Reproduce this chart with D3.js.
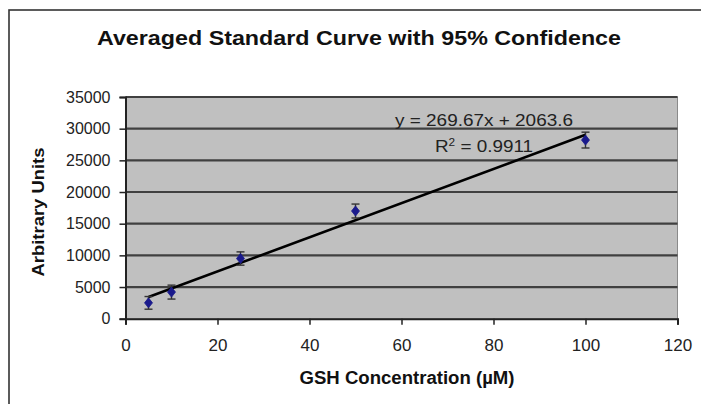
<!DOCTYPE html>
<html>
<head>
<meta charset="utf-8">
<script src="https://cdn.jsdelivr.net/npm/d3@7"></script>
<style>
  html, body { margin: 0; padding: 0; background: #fff; }
  svg { display: block; font-family: "Liberation Sans", Arial, sans-serif; }
</style>
</head>
<body>
<svg id="chart" width="701" height="404"></svg>
<script>
// ---- data ----
const concentrations = [5, 10, 25, 50, 100];
const meanValues = [2500, 4200, 9500, 17000, 28200];
const ciErrors = [1000, 1100, 1050, 1100, 1250];
const xTicks = [0, 20, 40, 60, 80, 100, 120];
const yTicks = [0, 5000, 10000, 15000, 20000, 25000, 30000, 35000];
const trendSlope = 269.67;
const trendIntercept = 2063.6;
const trendRange = [5, 100];
const titleText = "Averaged Standard Curve with 95% Confidence";
const xLabel = "GSH Concentration (\u00b5M)";
const yLabel = "Arbitrary Units";

// ---- layout ----
const svg = d3.select("#chart");
const plot = { left: 125.5, right: 677.5, top: 97, bottom: 318.7 };

const x = d3.scaleLinear().domain([0, 120]).range([plot.left, plot.right]);
const y = d3.scaleLinear().domain([0, 35000]).range([plot.bottom, plot.top]);

// outer chart border (only top and left visible)
svg.append("rect")
  .attr("x", 9).attr("y", 10).attr("width", 720).attr("height", 420)
  .attr("fill", "#fff").attr("stroke", "#333").attr("stroke-width", 1.6);

// title
svg.append("text")
  .attr("x", 359).attr("y", 45)
  .attr("text-anchor", "middle")
  .attr("font-size", 21).attr("font-weight", "bold")
  .attr("fill", "#111")
  .attr("textLength", 524).attr("lengthAdjust", "spacingAndGlyphs")
  .text(titleText);

// plot background
svg.append("rect")
  .attr("x", plot.left).attr("y", plot.top)
  .attr("width", plot.right - plot.left).attr("height", plot.bottom - plot.top)
  .attr("fill", "#c0c0c0").attr("stroke", "#8a8a8a").attr("stroke-width", 1);

// gridlines
svg.append("g").selectAll("line")
  .data(yTicks.filter(d => d > 0))
  .join("line")
  .attr("x1", plot.left).attr("x2", plot.right)
  .attr("y1", d => y(d)).attr("y2", d => y(d))
  .attr("stroke", "#404040").attr("stroke-width", 2.2);

// axes
const xAxis = d3.axisBottom(x).tickValues(xTicks).tickSize(6).tickPadding(14).tickFormat(d3.format("d"));
const gx = svg.append("g").attr("transform", `translate(0,${plot.bottom})`).call(xAxis);
gx.select(".domain").attr("stroke", "#222").attr("stroke-width", 2);
gx.selectAll(".tick line").attr("stroke", "#222").attr("stroke-width", 1.5);
gx.selectAll(".tick text").attr("font-size", 17).attr("fill", "#222")
  .attr("font-family", "Liberation Sans, Arial, sans-serif");

const yAxis = d3.axisLeft(y).tickValues(yTicks).tickSize(6).tickPadding(9).tickFormat(d3.format("d"));
const gy = svg.append("g").attr("transform", `translate(${plot.left},0)`).call(yAxis);
gy.select(".domain").attr("stroke", "#222").attr("stroke-width", 2);
gy.selectAll(".tick line").attr("stroke", "#222").attr("stroke-width", 1.5);
gy.selectAll(".tick text").attr("font-size", 16).attr("fill", "#222")
  .attr("font-family", "Liberation Sans, Arial, sans-serif");

// axis titles
svg.append("text")
  .attr("x", 407).attr("y", 384)
  .attr("text-anchor", "middle")
  .attr("font-size", 18).attr("font-weight", "bold").attr("fill", "#111")
  .attr("textLength", 215).attr("lengthAdjust", "spacingAndGlyphs")
  .text(xLabel);

svg.append("text")
  .attr("transform", "translate(44,212) rotate(-90)")
  .attr("text-anchor", "middle")
  .attr("font-size", 17).attr("font-weight", "bold").attr("fill", "#111")
  .attr("textLength", 129).attr("lengthAdjust", "spacingAndGlyphs")
  .text(yLabel);

// data table
const pts = concentrations.map((c, i) => ({ c, v: meanValues[i], e: ciErrors[i] }));

// trendline
svg.append("line")
  .attr("x1", x(trendRange[0])).attr("y1", y(trendSlope * trendRange[0] + trendIntercept))
  .attr("x2", x(trendRange[1])).attr("y2", y(trendSlope * trendRange[1] + trendIntercept))
  .attr("stroke", "#000").attr("stroke-width", 2.6);

// error bars
const eb = svg.append("g").attr("stroke", "#333").attr("stroke-width", 1.4);
eb.selectAll("line.v").data(pts).join("line").attr("class", "v")
  .attr("x1", d => x(d.c)).attr("x2", d => x(d.c))
  .attr("y1", d => y(d.v - d.e)).attr("y2", d => y(d.v + d.e));
eb.selectAll("line.t").data(pts).join("line").attr("class", "t")
  .attr("x1", d => x(d.c) - 4).attr("x2", d => x(d.c) + 4)
  .attr("y1", d => y(d.v + d.e)).attr("y2", d => y(d.v + d.e));
eb.selectAll("line.b").data(pts).join("line").attr("class", "b")
  .attr("x1", d => x(d.c) - 4).attr("x2", d => x(d.c) + 4)
  .attr("y1", d => y(d.v - d.e)).attr("y2", d => y(d.v - d.e));

// diamond markers
svg.append("g").selectAll("path").data(pts).join("path")
  .attr("transform", d => `translate(${x(d.c)},${y(d.v)})`)
  .attr("d", "M0,-5L4,0L0,5L-4,0Z")
  .attr("fill", "#1a1a8c").attr("stroke", "#1a1a8c").attr("stroke-width", 0.8);

// equation labels
svg.append("text")
  .attr("x", 484).attr("y", 126)
  .attr("text-anchor", "middle")
  .attr("font-size", 16).attr("fill", "#222")
  .attr("textLength", 178).attr("lengthAdjust", "spacingAndGlyphs")
  .text("y = 269.67x + 2063.6");

const r2 = svg.append("text")
  .attr("x", 435).attr("y", 152)
  .attr("font-size", 16).attr("fill", "#222")
  .attr("textLength", 98).attr("lengthAdjust", "spacingAndGlyphs");
r2.append("tspan").text("R");
r2.append("tspan").attr("dy", -6).attr("font-size", 10).text("2");
r2.append("tspan").attr("dy", 6).text(" = 0.9911");
</script>
</body>
</html>
